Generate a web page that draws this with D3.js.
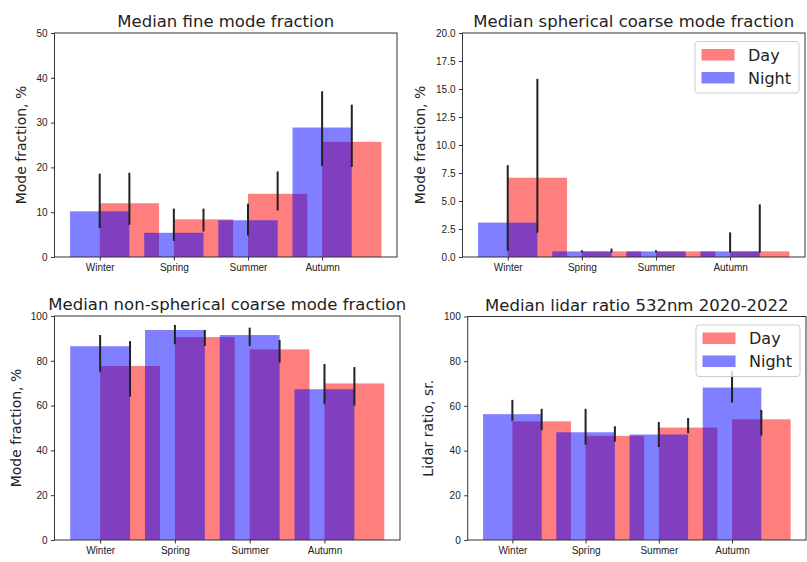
<!DOCTYPE html>
<html>
<head>
<meta charset="utf-8">
<script src="https://cdnjs.cloudflare.com/ajax/libs/d3/7.8.5/d3.min.js"></script>
<style>
  body { margin: 0; background: #fff; }
  svg { font-family: "DejaVu Sans", sans-serif; }
  .axis path, .axis line { stroke: #333; }
  .axis text { fill: #222; font-size: 10px; }
</style>
</head>
<body>
<svg width="807" height="562"></svg>
<script>
var seasons = ["Winter", "Spring", "Summer", "Autumn"];
var seriesNames = ["Day", "Night"];

// fine mode fraction, %
var fineDay = [12.0, 8.4, 14.1, 25.7],
    fineDayLo = [7.2, 5.7, 10.4, 20.1],
    fineDayHi = [18.8, 10.8, 19.1, 34.0],
    fineNight = [10.2, 5.4, 8.2, 28.9],
    fineNightLo = [6.5, 3.6, 4.8, 20.3],
    fineNightHi = [18.6, 10.8, 11.9, 37.0];

// spherical coarse mode fraction, %
var sphDay = [7.08, 0.5, 0.5, 0.5],
    sphDayLo = [2.17, 0.4, 0.5, 0.4],
    sphDayHi = [15.9, 0.75, 0.5, 4.7],
    sphNight = [3.07, 0.5, 0.5, 0.5],
    sphNightLo = [0.55, 0.4, 0.4, 0.4],
    sphNightHi = [8.2, 0.6, 0.6, 2.2];

// non-spherical coarse mode fraction, %
var nsDay = [77.7, 90.6, 85.1, 69.9],
    nsDayLo = [64.0, 86.6, 79.2, 60.0],
    nsDayHi = [88.8, 93.75, 89.3, 77.2],
    nsNight = [86.5, 93.75, 91.5, 67.3],
    nsNightLo = [75.1, 87.4, 86.6, 60.6],
    nsNightHi = [91.5, 96.0, 94.8, 78.6];

// lidar ratio 532nm, sr
var lrDay = [53.1, 46.6, 50.3, 54.0],
    lrDayLo = [49.1, 44.0, 47.8, 46.7],
    lrDayHi = [58.7, 50.9, 54.6, 58.2],
    lrNight = [56.3, 48.2, 47.2, 68.2],
    lrNightLo = [53.3, 42.7, 41.6, 61.5],
    lrNightHi = [62.7, 58.7, 52.8, 75.7];

var panels = [
  { title: "Median fine mode fraction", ylabel: "Mode fraction, %",
    x0: 54.5, x1: 397, y0: 33, y1: 257, ymax: 50, ticks: [0, 10, 20, 30, 40, 50], fmt: d3.format("d"),
    day: fineDay, dayLo: fineDayLo, dayHi: fineDayHi,
    night: fineNight, nightLo: fineNightLo, nightHi: fineNightHi, labelX: 21, legend: false },
  { title: "Median spherical coarse mode fraction", ylabel: "Mode fraction, %",
    x0: 462.5, x1: 805, y0: 33, y1: 257, ymax: 20, ticks: d3.range(0, 20.1, 2.5), fmt: d3.format(".1f"),
    day: sphDay, dayLo: sphDayLo, dayHi: sphDayHi,
    night: sphNight, nightLo: sphNightLo, nightHi: sphNightHi, labelX: 420, legend: true },
  { title: "Median non-spherical coarse mode fraction", ylabel: "Mode fraction, %",
    x0: 54.5, x1: 400, y0: 316, y1: 540, ymax: 100, ticks: [0, 20, 40, 60, 80, 100], fmt: d3.format("d"),
    day: nsDay, dayLo: nsDayLo, dayHi: nsDayHi,
    night: nsNight, nightLo: nsNightLo, nightHi: nsNightHi, labelX: 16, legend: false },
  { title: "Median lidar ratio 532nm 2020-2022", ylabel: "Lidar ratio, sr.",
    x0: 467.7, x1: 806, y0: 316.5, y1: 540, ymax: 100, ticks: [0, 20, 40, 60, 80, 100], fmt: d3.format("d"),
    day: lrDay, dayLo: lrDayLo, dayHi: lrDayHi,
    night: lrNight, nightLo: lrNightLo, nightHi: lrNightHi, labelX: 428, legend: true }
];

var svg = d3.select("svg");
var barW = 0.8, dayShift = 0.4;
var colors = { Day: "red", Night: "blue" };

panels.forEach(function (p) {
  // matplotlib style auto margins (5%)
  var lo = -barW / 2, hi = seasons.length - 1 + dayShift + barW / 2,
      pad = (hi - lo) * 0.05;
  var x = d3.scaleLinear().domain([lo - pad, hi + pad]).range([p.x0, p.x1]);
  var y = d3.scaleLinear().domain([0, p.ymax]).range([p.y1, p.y0]);

  var g = svg.append("g");

  var series = [
    { name: "Day", vals: p.day, lo: p.dayLo, hi: p.dayHi, off: dayShift },
    { name: "Night", vals: p.night, lo: p.nightLo, hi: p.nightHi, off: 0 }
  ];

  series.forEach(function (s) {
    g.selectAll(null)
      .data(s.vals)
      .enter().append("rect")
      .attr("x", function (d, i) { return x(i + s.off - barW / 2); })
      .attr("width", function (d, i) { return x(i + s.off + barW / 2) - x(i + s.off - barW / 2); })
      .attr("y", function (d) { return y(d); })
      .attr("height", function (d) { return y(0) - y(d); })
      .attr("fill", colors[s.name])
      .attr("fill-opacity", 0.5);
  });

  series.forEach(function (s) {
    g.selectAll(null)
      .data(s.vals)
      .enter().append("line")
      .attr("x1", function (d, i) { return x(i + s.off); })
      .attr("x2", function (d, i) { return x(i + s.off); })
      .attr("y1", function (d, i) { return y(s.lo[i]); })
      .attr("y2", function (d, i) { return y(s.hi[i]); })
      .attr("stroke", "#222")
      .attr("stroke-width", 2);
  });

  // frame
  g.append("rect")
    .attr("x", p.x0).attr("y", p.y0)
    .attr("width", p.x1 - p.x0).attr("height", p.y1 - p.y0)
    .attr("fill", "none").attr("stroke", "#333").attr("stroke-width", 1);

  var xAxis = d3.axisBottom(x)
    .tickValues(d3.range(seasons.length))
    .tickFormat(function (d) { return seasons[d]; })
    .tickSize(3.5).tickPadding(3.5).tickSizeOuter(0);
  g.append("g")
    .attr("class", "axis")
    .attr("transform", "translate(0," + p.y1 + ")")
    .call(xAxis)
    .call(function (a) { a.select(".domain").remove(); });

  var yAxis = d3.axisLeft(y)
    .tickValues(p.ticks)
    .tickFormat(p.fmt)
    .tickSize(3.5).tickPadding(3.5).tickSizeOuter(0);
  g.append("g")
    .attr("class", "axis")
    .attr("transform", "translate(" + p.x0 + ",0)")
    .call(yAxis)
    .call(function (a) { a.select(".domain").remove(); });

  g.append("text")
    .attr("x", (p.x0 + p.x1) / 2)
    .attr("y", p.y0 - 6)
    .attr("text-anchor", "middle")
    .style("font-size", "16.5px")
    .attr("fill", "#222")
    .text(p.title);

  g.append("text")
    .attr("transform", "translate(" + p.labelX + "," + (p.y0 + p.y1) / 2 + ") rotate(-90)")
    .attr("text-anchor", "middle")
    .attr("dy", "0.35em")
    .style("font-size", "14px")
    .attr("fill", "#222")
    .text(p.ylabel);

  if (p.legend) {
    var lx = p.x1 - 110, ly = p.y0 + 8.5;
    var leg = g.append("g").attr("transform", "translate(" + lx + "," + ly + ")");
    leg.append("rect")
      .attr("width", 104).attr("height", 51.5)
      .attr("rx", 3)
      .attr("fill", "#fff").attr("fill-opacity", 0.8)
      .attr("stroke", "#ccc");
    seriesNames.forEach(function (n, k) {
      var row = leg.append("g").attr("transform", "translate(0," + (k * 23) + ")");
      row.append("rect")
        .attr("x", 6.5).attr("y", 7.5)
        .attr("width", 33).attr("height", 11.5)
        .attr("fill", colors[n]).attr("fill-opacity", 0.5);
      row.append("text")
        .attr("x", 53).attr("y", 13.5)
        .attr("dy", "0.35em")
        .style("font-size", "16px")
        .attr("fill", "#222")
        .text(n);
    });
  }
});
</script>
</body>
</html>
